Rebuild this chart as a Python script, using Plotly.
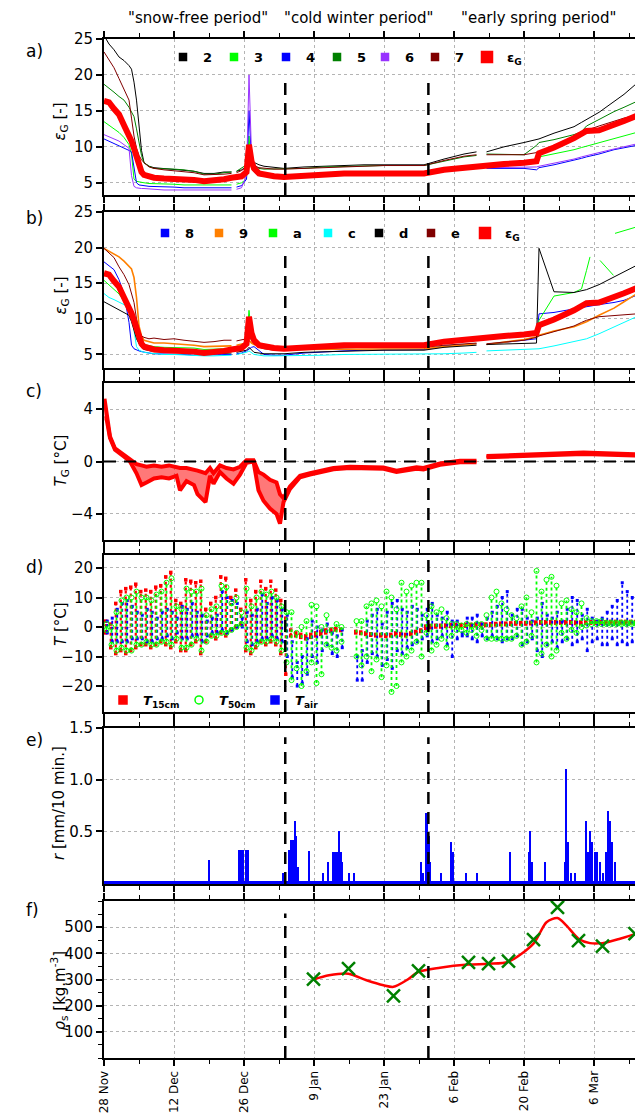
import pandas as pd
import plotly.graph_objects as go
from plotly.subplots import make_subplots

# ---------------- data ----------------
START = pd.Timestamp("2010-11-28")
X_END_DAY = 106.2
period_bounds = ["2011-01-03 06:00", "2011-01-31 21:00"]
period_labels = ['"snow-free period"', '"cold winter period"', '"early spring period"']
period_label_days = [18.8, 50.8, 86.8]

# common day grid (days after 28 Nov) for panels a) and b)
G = [0, 1, 2, 3, 4, 5, 5.5, 6, 6.5, 7,
     7.5, 8, 9, 10, 12, 14, 16, 18, 20, 22,
     24, 25.5, 26, 26.5, 27.5, 28.5, 29, 29.5, 30, 31,
     32, 34, 36, 40, 44, 48, 52, 56, 60, 64,
     68, 72, 74.5, 75.5, 76.5, 80, 84, 86.5, 87, 90,
     94, 95.5, 96.5, 99, 102, 104, 106.5]

s2 = [25.5, 24.3, 23.5, 22.5, 22.0, 21.3, 20.8, 19.0, 16.5, 12.5,
      9.5, 7.8, 7.3, 7.1, 7.0, 6.9, 6.8, 6.6, 6.3, 6.3,
      6.5, 6.5, None, 6.6, 6.8, 7.2, 9.0, 8.0, 7.8, 7.5,
      7.3, 7.1, 7.0, 7.2, 7.3, 7.5, 7.5, 7.5, 7.5, 7.5,
      8.3, 9.0, 9.3, None, 9.3, 10.0, 10.6, 11.0, 11.1, 11.9,
      12.8, 13.4, 13.8, 14.8, 16.3, 17.3, 18.8]
s3 = [13.5, 13.0, 12.5, 12.0, 11.3, 10.3, 9.0, 5.5, 5.2, 5.1,
      5.0, 5.0, 4.9, 4.9, 4.8, 4.8, 4.7, 4.7, 4.6, 4.6,
      4.7, 4.7, None, 4.8, 5.0, 5.5, 11.5, 7.0, 6.5, 6.2,
      6.1, 6.0, 6.0, 6.1, 6.2, 6.3, 6.3, 6.3, 6.3, 6.3,
      6.8, 7.2, 7.3, None, 7.4, 7.6, 7.8, 8.0, 8.6, 9.0,
      9.6, 9.9, 10.1, 10.6, 11.2, 11.5, 12.0]
s4 = [11.1, 10.8, 10.5, 10.2, 9.8, 9.5, 9.3, 7.0, 5.0, 4.7,
      4.6, 4.6, 4.5, 4.5, 4.4, 4.4, 4.3, 4.3, 4.2, 4.2,
      4.3, 4.3, None, 4.4, 4.6, 5.5, 15.0, 8.0, 6.5, 6.0,
      5.9, 5.9, 5.9, 6.0, 6.1, 6.2, 6.2, 6.2, 6.2, 6.2,
      6.6, 6.9, 7.0, None, 7.0, 7.0, 7.0, 6.8, 7.1, 7.5,
      8.1, 8.4, 8.6, 9.0, 9.6, 9.9, 10.2]
s5 = [18.7, 18.2, 17.6, 17.0, 16.5, 15.5, 14.8, 14.2, 12.5, 10.5,
      8.8, 7.8, 7.3, 7.0, 7.0, 6.9, 6.8, 6.6, 6.2, 6.2,
      6.4, 6.5, None, 6.6, 7.0, 7.5, 9.5, 7.6, 7.3, 7.0,
      6.9, 6.9, 6.9, 7.0, 7.2, 7.3, 7.4, 7.4, 7.4, 7.4,
      8.0, 8.6, 8.8, None, 9.0, 9.0, 8.9, 10.2, 10.6, 11.0,
      11.7, 12.1, 12.9, 13.8, 14.9, 15.5, 16.3]
s6 = [11.7, 11.4, 11.1, 10.8, 10.3, 9.8, 6.0, 4.5, 4.3, 4.2,
      4.2, 4.2, 4.1, 4.1, 4.0, 4.0, 4.0, 3.9, 3.9, 3.9,
      4.0, 4.0, None, 4.1, 4.3, 6.0, 20.0, 9.0, 7.0, 6.3,
      6.1, 6.0, 6.0, 6.1, 6.2, 6.3, 6.3, 6.3, 6.3, 6.3,
      6.7, 7.0, 7.1, None, 7.1, 7.1, 7.1, 7.2, 7.3, 7.7,
      8.3, 8.6, 8.8, 9.2, 9.7, 10.0, 10.4]
s7 = [23.2, 22.0, 21.0, 19.5, 18.0, 16.5, 14.0, 11.5, 9.8, 8.8,
      8.2, 7.8, 7.2, 7.0, 6.8, 6.7, 6.6, 6.4, 6.1, 6.1,
      6.2, 6.3, None, 6.4, 6.7, 7.2, 9.0, 7.8, 7.4, 7.1,
      7.0, 6.9, 6.9, 7.0, 7.2, 7.3, 7.4, 7.4, 7.4, 7.4,
      8.1, 8.7, 8.9, None, 8.9, 8.9, 8.9, 9.2, 9.3, 10.0,
      11.0, 11.8, 12.3, 12.9, 13.6, 14.0, 14.4]
eps_G = [16.4, 16.2, 15.3, 14.5, 13.0, 11.8, 10.8, 9.8, 8.5, 7.2,
         6.5, 6.1, 5.8, 5.7, 5.6, 5.6, 5.5, 5.4, 5.2, 5.3,
         5.5, 5.7, 5.7, 5.7, 5.9, 6.5, 10.3, 8.0, 7.0, 6.3,
         6.1, 5.9, 5.8, 6.0, 6.2, 6.3, 6.3, 6.3, 6.3, 6.3,
         6.8, 7.1, 7.3, 7.4, 7.4, 7.6, 7.8, 8.0, 9.1, 9.9,
         11.2, 11.8, 12.2, 12.3, 13.0, 13.6, 14.3]

s8 = [18.0, 17.5, 16.9, 15.5, 13.5, 9.5, 6.3, 5.8, 5.6, 5.5,
      5.4, 5.3, 5.2, 5.1, 5.1, 5.0, 5.0, 4.9, 4.9, 4.9,
      5.0, 5.0, None, 5.1, 5.2, 5.5, 5.8, 6.0, 6.1, 5.5,
      5.0, 4.9, 4.9, 5.2, 5.4, 5.5, 5.6, 5.6, 5.7, 5.7,
      6.2, 6.4, 6.5, None, 6.4, 6.7, 7.0, 7.2, 10.7, 10.9,
      11.4, 11.6, 11.7, 12.0, 12.3, 12.6, 13.3]
s9 = [19.9, 19.5, 19.0, 18.7, 18.1, 17.4, 17.0, 15.8, 13.0, 9.0,
      7.6, 7.0, 6.8, 6.6, 6.6, 6.5, 6.5, 6.3, 6.1, 6.1,
      6.2, 6.2, None, 6.3, 6.4, 6.6, 7.0, 6.6, 6.4, 6.2,
      6.0, 5.8, 5.7, 5.7, 5.7, 5.8, 5.8, 5.8, 5.8, 5.8,
      6.1, 6.3, 6.5, None, 6.4, 6.7, 7.1, 7.5, 7.7, 8.3,
      8.9, 9.3, 9.6, 10.5, 11.5, 12.4, 13.5]
sa = [15.4, 14.8, 14.2, 13.5, 12.5, 11.7, 10.8, 9.8, 9.0, 7.5,
      6.7, 6.4, 6.2, 6.1, 6.0, 6.0, 6.0, 5.9, 5.7, 5.7,
      5.8, 5.9, None, 6.0, 6.2, 6.8, 11.2, 8.0, 6.8, 6.3,
      6.1, 5.9, 5.8, 6.0, 6.2, 6.3, 6.3, 6.3, 6.3, 6.3,
      6.8, 7.1, 7.3, None, 7.4, 7.6, 7.8, 8.0, 9.8, 13.2,
      13.7, 14.2, 16.8, None, None, None, None]
sa_tail_days = [96.5, 97.2, 97.6, 99.2, 100.5, 101.9, 102.0, 102.2, 104.0, 106.5]
sa_tail_vals = [16.8, 18.7, None, 18.2, 17.2, 16.1, None, 22.0, 22.4, 22.9]
sc = [13.55, 13.0, 12.7, 12.4, 12.0, 11.6, 10.5, 8.4, 6.1, 5.6,
      5.4, 5.3, 5.2, 5.1, 5.0, 5.0, 4.9, 4.9, 4.8, 4.8,
      4.9, 4.9, None, 5.0, 5.1, 5.3, 5.5, 5.3, 5.0, 4.9,
      4.8, 4.8, 4.8, 4.9, 4.9, 5.0, 5.0, 5.0, 5.0, 5.0,
      5.1, 5.2, 5.3, None, 5.5, 5.6, 5.7, 5.8, 5.8, 6.2,
      6.8, 7.0, 7.2, 7.9, 8.8, 9.5, 10.3]
sd = [12.4, 12.0, 11.6, 11.2, 10.8, 10.5, 9.6, 8.4, 7.2, 6.5,
      6.0, 5.7, 5.5, 5.4, 5.4, 5.3, 5.3, 5.2, 5.1, 5.1,
      5.2, 5.2, None, 5.3, 5.4, 5.6, 6.0, 5.6, 5.3, 5.2,
      5.1, 5.1, 5.1, 5.3, 5.4, 5.5, 5.5, 5.6, 5.6, 5.6,
      6.0, 6.2, 6.3, None, 6.4, 6.5, 6.6, 6.6, 19.9, 13.8,
      13.7, 13.9, 14.1, 14.8, 15.9, 16.6, 17.5]
se = [19.9, 19.3, 18.6, 17.3, 16.2, 14.8, 13.5, 12.3, 10.0, 8.4,
      7.6, 7.4, 7.2, 7.3, 7.1, 7.2, 7.0, 6.8, 6.7, 6.8,
      7.0, 7.0, None, 6.9, 7.0, 7.2, 7.5, 7.0, 6.5, 6.0,
      5.8, 5.6, 5.6, 5.8, 5.9, 6.0, 6.0, 6.0, 6.0, 6.0,
      6.3, 6.5, 6.6, None, 6.5, 6.7, 7.0, 7.4, 7.6, 8.2,
      9.0, 9.5, 9.8, 10.3, 10.5, 10.6, 10.7]

# panel c) ground temperature band (upper / lower envelope)
tg_days = [0.1, 0.5, 1.2, 2.2, 3.9, 5.2, 6.5, 7.5, 8.5, 10,
           11.5, 13, 14.5, 15.2, 16.5, 18, 18.7, 19.5, 20.3, 21.2,
           21.9, 23.2, 24.5, 25.9, 27.2, 28.5, 29.9, 30.9, 31.9, 33.2,
           34.5, 35.2, 35.9, 37.2, 39.2, 41.2, 43.2, 45.9, 49.2, 52.5,
           55.9, 58.5, 62.5, 63.9, 67.2, 71.2, 74.5, 75.5, 76.5, 85.9,
           95.9, 106.5]
tg_up = [4.8, 3.6, 1.9, 1.0, 0.5, 0.1, -0.2, -0.3, -0.4, -0.3,
         -0.4, -0.3, -0.4, -0.5, -0.5, -0.6, -0.7, -0.8, -0.9, -0.5,
         -0.9, -0.3, -0.5, -0.6, -0.4, 0.1, 0.1, -0.8, -1.0, -1.4,
         -1.6, -2.5, -2.8, -1.9, -1.1, -0.9, -0.75, -0.5, -0.4, -0.4,
         -0.45, -0.7, -0.45, -0.5, -0.15, 0.05, 0.05, None, 0.42, 0.58,
         0.68, 0.55]
tg_low = [3.3, 3.3, 1.8, 0.9, 0.4, 0.0, -0.9, -1.8, -1.6, -1.3,
          -1.2, -1.3, -1.1, -2.2, -1.5, -1.8, -2.5, -2.8, -3.1, -1.1,
          -1.7, -0.8, -1.3, -1.7, -1.0, -0.1, 0.0, -2.2, -3.0, -3.6,
          -4.0, -4.75, -3.1, -2.1, -1.2, -1.0, -0.85, -0.6, -0.5, -0.5,
          -0.55, -0.8, -0.55, -0.6, -0.25, -0.05, -0.05, None, 0.32, 0.48,
          0.58, 0.45]

# panel d) daily minima / maxima (day 0 .. 106)
t15_lo = [-2, -7, -9, -8, -9, -8, -7, -6, -6, -7,
          -6, -5, -6, -7, -5, -8, -8, -6, -5, -9,
          -5, -3, -4, -2, -3, -1, 0, 1, -8, -9,
          -7, -5, -6, -5, -6, -9, -16, -3, -3, -3.5,
          -4, -3.5, -3, -2.5, -2, -1.5, -1, -1.2, None, None,
          -2, -2.2, -2.5, -2.8, -3, -3, -3.2, -3, -2.6, -2.8,
          -3, -2.5, -2, -1.5, -0.5, -0.2, 0, 0, 0.2, 0.2,
          0.3, 0.3, 0.3, 0.4, 0.4, 0.5, 0.5, 0.6, 0.7, 0.8,
          0.8, 0.9, 1.0, 1.0, 1.0, 1.1, 1.2, 1.3, 1.3, 1.3,
          1.3, 1.3, 1.3, 1.3, 1.2, 1.2, 1.2, 1.3, 1.3, 1.3,
          1.3, 1.4, 1.4, 1.4, 1.4, 1.4, 1.4]
t15_hi = [2, 1, 8, 12, 13, 13.5, 14.5, 12, 12.5, 12,
          13.5, 14, 17, 18.5, 9, 8, 16, 15.5, 15, 15.5,
          6, 8, 10, 17, 16.5, 10, 12.5, 6, 16, 9,
          12, 15.5, 13, 15.5, 12.5, 9, 3, -1, -2, -2.5,
          -3, -2.5, -2, -1.5, -1, -0.8, -0.5, -0.8, None, None,
          -1.5, -1.7, -2, -2.3, -2.5, -2.5, -2.7, -2.5, -2, -2.2,
          -2.5, -2, -1.5, -1, 0.3, 0.5, 0.6, 0.6, 0.7, 0.8,
          0.8, 0.8, 0.9, 0.9, 1.0, 1.0, 1.0, 1.1, 1.2, 1.3,
          1.3, 1.4, 1.5, 1.5, 1.5, 1.6, 1.7, 1.8, 1.8, 1.8,
          1.8, 1.8, 1.8, 1.8, 1.7, 1.7, 1.7, 1.8, 1.8, 1.8,
          1.8, 1.9, 1.9, 1.9, 1.9, 1.9, 1.9]
t50_lo = [-1, -6, -8, -7, -8, -8, -6, -6, -5, -6,
          -6, -5, -5, -6, -4, -7, -7, -6, -4, -8,
          -5, -3, -3, -2, -2, -1, 0, 1, -7, -8,
          -6, -5, -5, -4, -5, -8, -12, -18, -14, -20,
          -15, -12, -19, -16, -6, -7, -8, -5, None, None,
          -10, -13, -10, -15, -11, -17, -13, -22, -20, -12,
          -10, -8, -5, -10, -2, -8, -6, -4, -7, -3,
          -1, -1, -2, -1, -3, -1, -4, -4, -4, -4,
          -4, -4, -3, -6, -5, -3, -12, -9, -6, -10,
          -8, -2, -4, -1, -2, 0, 0.5, 1, 1, 1,
          1, 1, 1, 1, 1, 1, 1]
t50_hi = [1, 0, 5, 9, 10, 10, 12, 10, 10, 9,
          11, 12, 15, 16.5, 7, 6, 13, 12, 12, 13,
          4, 6, 7, 14, 13.5, 8, 10, 5, 13, 7,
          10, 12, 11, 12, 10, 7, 5, 5, -2, 0,
          2, 7.5, 7, 0, 4, -1, 1, 0, None, None,
          2, 2, 7, 8, 9, 7, 12, 10, 6, 15,
          12, 14, 15, 15, 4, 7, 5, 6, 3, 1,
          1, 0.5, 1, 0.5, 1, 1, 4, 10, 12, 8,
          6, 4, 3, 7, 10, 5, 19, 12, 16, 17,
          14, 8, 9, 6, 5, 8, 3, 2, 2, 2,
          1.5, 1.5, 1.5, 1.5, 1.5, 1.5, 1.5]
tair_lo = [-2, -5, -5, -5, -5, -4, -4, -4, -5, -5,
           -4, -4, -3, -4, -2, -4, -4, -3, -3, -5,
           -3, -2, -2, -1, -2, -1, 0, 0, -5, -6,
           -5, -4, -4, -3, -4, -5, -10, -17, -20, -19,
           -16, -10, -12, -8, -6, -9, -10, -7, None, None,
           -18, -18, -12, -9, -10, -13, -11, -14, -8, -9,
           -7, -6, -5, -4, -3, -5, -4, -3, -6, -10,
           -4, -3, -3, -4, -5, -3, -4, -3, -4, -5,
           -4, -4, -3, -6, -5, -4, -8, -10, -6, -5,
           -7, -5, -4, -6, -5, -4, -8, -5, -4, -6,
           -6, -4, -6, -5, -6, -5, -4]
tair_hi = [2, 3, 6, 8, 9, 7, 5, 4, 6, 5,
           3, 5, 6, 5, 3, 7, 6, 8, 5, 4,
           2, 3, 4, 12, 10, 9, 8, 3, 5, 4,
           6, 11, 8, 10, 9, 6, 4, -5, -12, -10,
           -4, 2, 0, -1, 1, -2, -3, -1, None, None,
           -10, -8, 2, 4, 6, 1, 5, 8, 9, 6,
           5, 7, 6, 4, 6, 8, 4, 3, 5, 2,
           2, -2, 3, 3, 4, 1, 3, 5, 7, 10,
           12, 4, 6, 6, 3, 2, 3, 8, 4, 3,
           5, 2, 6, 10, 9, 4, 6, 3, 2, 3,
           5, 7, 9, 15, 12, 10, 12]

# panel e) precipitation events
rain_days = [21.1, 27.1, 27.4, 27.9, 28.4, 28.9, 35.9, 37.1, 37.5, 37.9,
             38.2, 38.5, 38.9, 41.0, 43.9, 44.9, 45.9, 46.2, 46.7, 47.1,
             47.4, 47.7, 49.1, 50.0, 63.5, 63.9, 64.4, 64.7, 65.1, 65.3,
             67.4, 69.5, 69.9, 72.5, 74.7, 81.3, 85.0, 85.3, 85.7, 88.2,
             92.2, 92.5, 92.9, 93.5, 94.2, 96.4, 96.9, 97.2, 97.7, 98.2,
             98.7, 99.2, 99.9, 100.5, 100.9, 101.2, 101.7, 102.2]
rain_vals = [0.22, 0.32, 0.32, 0.32, 0.32, 0.32, 0.1, 0.32, 0.42, 0.42,
             0.6, 0.45, 0.15, 0.31, 0.1, 0.2, 0.3, 0.3, 0.3, 0.5,
             0.3, 0.2, 0.1, 0.1, 0.2, 0.1, 0.68, 0.68, 0.45, 0.2,
             0.1, 0.4, 0.3, 0.1, 0.1, 0.3, 0.3, 0.5, 0.2, 0.2,
             0.2, 1.1, 0.4, 0.1, 0.1, 0.6, 0.3, 0.5, 0.4, 0.3,
             0.3, 0.2, 0.1, 0.3, 0.7, 0.6, 0.4, 0.2]

# panel f) snow density
rho_days = [41.9, 48.9, 57.9, 62.9, 72.9, 76.9, 80.9, 85.9, 90.7, 94.9, 99.7, 106.2]
rho_vals = [301, 342, 237, 333, 365, 361, 370, 452, 576, 449, 428, 475]
rho_fit_days = [41.9, 45, 48.9, 52.5, 55.9, 57.9, 60.5, 62.9, 67.2, 72.9,
                76.9, 80.9, 85.9, 88.5, 90.7, 92.5, 94.9, 97.2, 99.7, 103.2, 106.5]
rho_fit_vals = [300, 316, 322, 297, 278, 272, 297, 329, 345, 357,
                360, 368, 437, 519, 535, 506, 456, 439, 439, 456, 476]

for arr in [s2, s3, s4, s5, s6, s7, eps_G, s8, s9, sa, sc, sd, se]:
    assert len(arr) == len(G), len(arr)
for arr in [t15_lo, t15_hi, t50_lo, t50_hi, tair_lo, tair_hi]:
    assert len(arr) == 107, len(arr)
assert len(tg_days) == len(tg_up) == len(tg_low)
assert len(rain_days) == len(rain_vals)

# ---------------- helpers ----------------
def T(days):
    return [START + pd.Timedelta(days=d) if d is not None else None for d in days]

def streaks(lo, hi, off):
    xs, ys = [], []
    for i, (a, b) in enumerate(zip(lo, hi)):
        t = START + pd.Timedelta(days=i + off)
        xs += [t, t, None]
        ys += [a, b, None]
    return xs, ys

FONT = "DejaVu Sans"
C = dict(black="#000000", lime="#00ff00", blue="#0000ff", green="#008000",
         purple="#9933ff", darkred="#800000", red="#ff0000", orange="#ff8000",
         cyan="#00ffff")

W, H = 635, 1113
ML, MT, MB = 104, 39, 55
PH = H - MT - MB

def py(pix):  # pixel row -> paper y
    return (H - MB - pix) / PH

def px(pix):  # pixel column -> paper x
    return (pix - ML) / (W - ML)

fig = make_subplots(rows=6, cols=1, shared_xaxes=True, vertical_spacing=0.01)

legends = {}
legend_font = dict(size=13, family=FONT, color="black")

def legend_item(label, sym, size, col, x_pix, y_pix):
    k = len(legends) + 1
    name = "legend" if k == 1 else "legend%d" % k
    legends[name] = dict(orientation="h", x=px(x_pix - 20), y=py(y_pix), xanchor="left",
                         yanchor="middle", bgcolor="rgba(0,0,0,0)", font=legend_font,
                         itemclick=False, itemdoubleclick=False)
    fig.add_trace(go.Scatter(x=[None], y=[None], mode="markers",
                             marker=dict(symbol=sym, size=size, color=col,
                                         line=dict(width=1.5, color=col)),
                             name="<b>%s</b>" % label, legend=name), row=1, col=1)

# ---- panel a
for vals, col in [(s2, C["black"]), (s3, C["lime"]), (s4, C["blue"]), (s5, C["green"]),
                  (s6, C["purple"]), (s7, C["darkred"])]:
    fig.add_trace(go.Scatter(x=T(G), y=vals, mode="lines", line=dict(color=col, width=1),
                             showlegend=False), row=1, col=1)
fig.add_trace(go.Scatter(x=T(G), y=eps_G, mode="lines", line=dict(color=C["red"], width=6),
                         showlegend=False), row=1, col=1)
leg_a = [("2", C["black"]), ("3", C["lime"]), ("4", C["blue"]), ("5", C["green"]),
         ("6", C["purple"]), ("7", C["darkred"]), ("ε<sub>G</sub>", C["red"])]
leg_a_px = [183, 234, 286, 337, 385, 435, 487]
for (lab, col), xp in zip(leg_a, leg_a_px):
    legend_item(lab, "square", 11 if col == C["red"] else 7, col, xp, 57)

# ---- panel b
for vals, col in [(s8, C["blue"]), (s9, C["orange"]), (sa, C["lime"]), (sc, C["cyan"]),
                  (sd, C["black"]), (se, C["darkred"])]:
    fig.add_trace(go.Scatter(x=T(G), y=vals, mode="lines",
                             line=dict(color=col, width=1.6 if col == C["orange"] else 1),
                             showlegend=False), row=2, col=1)
fig.add_trace(go.Scatter(x=T(sa_tail_days), y=sa_tail_vals, mode="lines",
                         line=dict(color=C["lime"], width=1), showlegend=False), row=2, col=1)
fig.add_trace(go.Scatter(x=T(G), y=eps_G, mode="lines", line=dict(color=C["red"], width=6),
                         showlegend=False), row=2, col=1)
leg_b = [("8", C["blue"]), ("9", C["orange"]), ("a", C["lime"]), ("c", C["cyan"]),
         ("d", C["black"]), ("e", C["darkred"]), ("ε<sub>G</sub>", C["red"])]
leg_b_px = [165, 219, 273, 328, 379, 431, 485]
for (lab, col), xp in zip(leg_b, leg_b_px):
    legend_item(lab, "square", 11 if col == C["red"] else 7, col, xp, 233)

# ---- panel c (split at gaps)
seg, segs = [], []
for d, u, l in zip(tg_days, tg_up, tg_low):
    if u is None:
        segs.append(seg)
        seg = []
    else:
        seg.append((d, u, l))
segs.append(seg)
for sg in segs:
    dd = [p[0] for p in sg]
    fig.add_trace(go.Scatter(x=T(dd), y=[p[1] for p in sg], mode="lines",
                             line=dict(color=C["red"], width=4), showlegend=False), row=3, col=1)
    fig.add_trace(go.Scatter(x=T(dd), y=[p[2] for p in sg], mode="lines",
                             line=dict(color=C["red"], width=4), fill="tonexty",
                             fillcolor="rgba(255,30,30,0.6)", showlegend=False), row=3, col=1)

# ---- panel d  (daily ranges drawn as dotted streaks)
x15, y15 = streaks(t15_lo, t15_hi, 0.35)
xair, yair = streaks(tair_lo, tair_hi, 0.65)
x50, y50 = streaks(t50_lo, t50_hi, 0.5)
fig.add_trace(go.Scatter(x=x15, y=y15, mode="lines+markers",
                         line=dict(color=C["red"], width=2.2, dash="dot"),
                         marker=dict(symbol="square", size=3.5, color=C["red"]),
                         showlegend=False), row=4, col=1)
fig.add_trace(go.Scatter(x=xair, y=yair, mode="lines+markers",
                         line=dict(color=C["blue"], width=1.8, dash="dot"),
                         marker=dict(symbol="square", size=3, color=C["blue"]),
                         showlegend=False), row=4, col=1)
fig.add_trace(go.Scatter(x=x50, y=y50, mode="lines+markers",
                         line=dict(color=C["lime"], width=1.8, dash="dot"),
                         marker=dict(symbol="circle-open", size=5, color=C["lime"], line=dict(width=1)),
                         showlegend=False), row=4, col=1)
for (lab, sym, col), xp in zip([("<i>T</i><sub>15cm</sub>", "square", C["red"]),
                                ("<i>T</i><sub>50cm</sub>", "circle-open", C["lime"]),
                                ("<i>T</i><sub>air</sub>", "square", C["blue"])],
                               [123, 199, 275]):
    legend_item(lab, sym, 8, col, xp, 700)

# ---- panel e
fig.add_trace(go.Bar(x=T(rain_days), y=rain_vals, width=0.25 * 86400000,
                     marker=dict(color=C["blue"], line=dict(width=0)), showlegend=False), row=5, col=1)

# ---- panel f
fig.add_trace(go.Scatter(x=T(rho_fit_days), y=rho_fit_vals, mode="lines",
                         line=dict(color=C["red"], width=2.5, shape="spline", smoothing=0.8),
                         showlegend=False), row=6, col=1)
fig.add_trace(go.Scatter(x=T(rho_days), y=rho_vals, mode="markers",
                         marker=dict(symbol="x-thin", size=13, color=C["green"],
                                     line=dict(width=2.5, color=C["green"])),
                         showlegend=False), row=6, col=1)

# ---------------- layout ----------------
panel_px = [(39, 195), (212, 368), (383, 540), (555, 712), (728, 884), (901, 1058)]
yranges = [[3.3, 25], [3.1, 25], [-6, 6], [-28.8, 24.4], [-0.01, 1.5], [0, 600]]
ytickvals = [[5, 10, 15, 20, 25], [5, 10, 15, 20, 25], [-4, 0, 4], [-20, -10, 0, 10, 20],
             [0.5, 1.0, 1.5], [100, 200, 300, 400, 500]]
yticktext = [None, None, None, None, ["0.5", "1.0", "1.5"], None]

xr = [START, START + pd.Timedelta(days=X_END_DAY)]
for i in range(6):
    sfx = "" if i == 0 else str(i + 1)
    top, bot = panel_px[i]
    fig.layout["xaxis" + sfx].update(
        type="date", range=xr, tick0=START, dtick=14 * 86400000, ticks="outside",
        ticklen=6, tickwidth=1.5, tickcolor="black", showline=True, linecolor="black",
        linewidth=2, mirror="ticks", showgrid=True, gridcolor="#b4b4b4", gridwidth=1,
        griddash="dot", zeroline=False, automargin=False,
        minor=dict(dtick=7 * 86400000, tick0=START, ticks="outside", ticklen=4,
                   tickwidth=1.2, tickcolor="black", showgrid=False),
        tickformat="%-d %b", tickangle=-90,
        tickfont=dict(size=12, color="black", family=FONT),
        showticklabels=(i == 5))
    ya = dict(domain=[py(bot), py(top)], range=yranges[i], tickmode="array",
              tickvals=ytickvals[i], ticks="outside", ticklen=6, tickwidth=1.5,
              tickcolor="black", showline=True, linecolor="black", linewidth=2,
              showgrid=True, gridcolor="#b4b4b4", gridwidth=1, griddash="dot",
              zeroline=False, automargin=False,
              tickfont=dict(size=15, color="black", family=FONT))
    if yticktext[i] is not None:
        ya["ticktext"] = yticktext[i]
    if i == 4:
        ya.update(zeroline=True, zerolinecolor=C["blue"], zerolinewidth=3)
    if i == 5:
        ya["minor"] = dict(tickmode="linear", tick0=0, dtick=50, ticks="outside", ticklen=4,
                           tickwidth=1.2, tickcolor="black", showgrid=False)
    fig.layout["yaxis" + sfx].update(ya)

shapes = []
dash_tops = [[0.77, 0.77], [0.745, 0.745], [0.97, 1.0], [0.95, 1.0], [0.94, 0.94], [0.92, 0.64]]
for i in range(6):
    sfx = "" if i == 0 else str(i + 1)
    for j, b in enumerate(period_bounds):
        shapes.append(dict(type="line", xref="x" + sfx, yref="y" + sfx + " domain",
                           x0=b, x1=b, y0=0, y1=dash_tops[i][j],
                           line=dict(color="black", width=2.5, dash="12px,8px")))
shapes.append(dict(type="line", xref="x3 domain", yref="y3", x0=0, x1=1, y0=0, y1=0,
                   line=dict(color="black", width=2, dash="12px,8px")))

ann = []
for lab, d in zip(period_labels, period_label_days):
    ann.append(dict(text=lab, xref="x", yref="paper", x=START + pd.Timedelta(days=d),
                    y=py(18), yanchor="middle", showarrow=False,
                    font=dict(size=15, family=FONT, color="black")))
letters = ["a)", "b)", "c)", "d)", "e)", "f)"]
letter_px = [51, 218, 391, 567, 740, 910]
for lab, p in zip(letters, letter_px):
    ann.append(dict(text=lab, xref="paper", yref="paper", x=px(24), y=py(p), yanchor="middle",
                    showarrow=False, font=dict(size=17, family=FONT, color="black")))
ytitles = ["<i>ε</i><sub>G</sub> [-]", "<i>ε</i><sub>G</sub> [-]", "<i>T</i><sub>G</sub> [°C]",
           "<i>T</i> [°C]", "<i>r</i> [mm/10 min.]", "<i>ρ</i><sub>s</sub> [kg.m<sup>-3</sup>]"]
ytitle_px = [122, 296, 461, 624, 803, 991]
ytitle_x = [49, 49, 50, 50, 48, 46]
for lab, p, xx in zip(ytitles, ytitle_px, ytitle_x):
    ann.append(dict(text=lab, xref="paper", yref="paper", x=px(xx), y=py(p), yanchor="middle",
                    textangle=-90, showarrow=False, font=dict(size=15, family=FONT, color="black")))

fig.update_layout(
    template="none", width=W, height=H,
    margin=dict(l=ML, r=0, t=MT, b=MB, autoexpand=False),
    paper_bgcolor="white", plot_bgcolor="white",
    font=dict(family=FONT, color="black"),
    shapes=shapes, annotations=ann, bargap=0,
    **legends,
)

fig.write_html("out.html", config={"displayModeBar": False},
               post_script="document.body.style.margin='0px';document.body.style.padding='0px';")
